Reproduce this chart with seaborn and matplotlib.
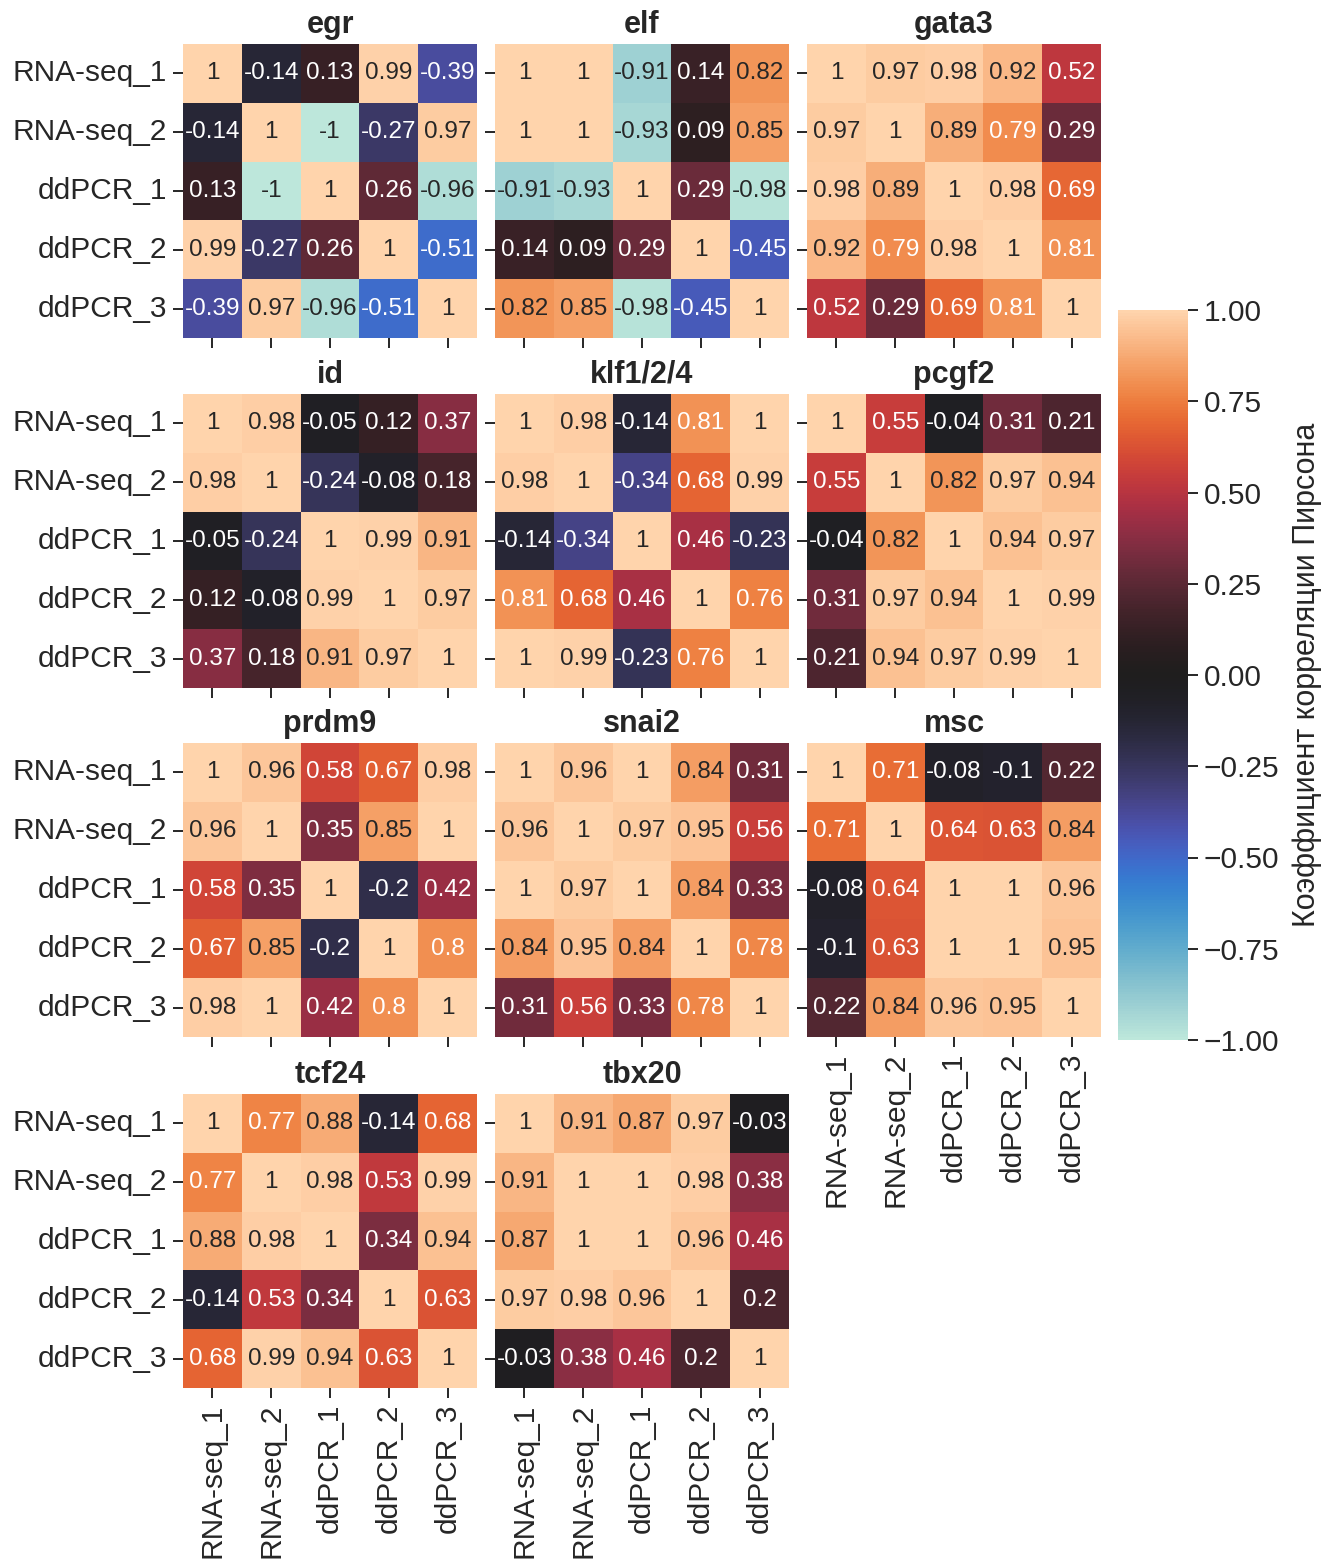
import numpy as np
import pandas as pd
import seaborn as sns
import matplotlib.pyplot as plt

sns.set_theme(style="ticks")
plt.rcParams['font.family'] = ['Liberation Sans', 'DejaVu Sans']

samples = ["RNA-seq_1", "RNA-seq_2", "ddPCR_1", "ddPCR_2", "ddPCR_3"]
genes = ["egr", "elf", "gata3", "id", "klf1/2/4", "pcgf2",
         "prdm9", "snai2", "msc", "tcf24", "tbx20"]
cbar_label = "Коэффициент корреляции Пирсона"

egr = [[1, -0.14, 0.13, 0.99, -0.39],
       [-0.14, 1, -1, -0.27, 0.97],
       [0.13, -1, 1, 0.26, -0.96],
       [0.99, -0.27, 0.26, 1, -0.51],
       [-0.39, 0.97, -0.96, -0.51, 1]]
elf = [[1, 1, -0.91, 0.14, 0.82],
       [1, 1, -0.93, 0.09, 0.85],
       [-0.91, -0.93, 1, 0.29, -0.98],
       [0.14, 0.09, 0.29, 1, -0.45],
       [0.82, 0.85, -0.98, -0.45, 1]]
gata3 = [[1, 0.97, 0.98, 0.92, 0.52],
         [0.97, 1, 0.89, 0.79, 0.29],
         [0.98, 0.89, 1, 0.98, 0.69],
         [0.92, 0.79, 0.98, 1, 0.81],
         [0.52, 0.29, 0.69, 0.81, 1]]
id_ = [[1, 0.98, -0.05, 0.12, 0.37],
       [0.98, 1, -0.24, -0.08, 0.18],
       [-0.05, -0.24, 1, 0.99, 0.91],
       [0.12, -0.08, 0.99, 1, 0.97],
       [0.37, 0.18, 0.91, 0.97, 1]]
klf = [[1, 0.98, -0.14, 0.81, 1],
       [0.98, 1, -0.34, 0.68, 0.99],
       [-0.14, -0.34, 1, 0.46, -0.23],
       [0.81, 0.68, 0.46, 1, 0.76],
       [1, 0.99, -0.23, 0.76, 1]]
pcgf2 = [[1, 0.55, -0.04, 0.31, 0.21],
         [0.55, 1, 0.82, 0.97, 0.94],
         [-0.04, 0.82, 1, 0.94, 0.97],
         [0.31, 0.97, 0.94, 1, 0.99],
         [0.21, 0.94, 0.97, 0.99, 1]]
prdm9 = [[1, 0.96, 0.58, 0.67, 0.98],
         [0.96, 1, 0.35, 0.85, 1],
         [0.58, 0.35, 1, -0.2, 0.42],
         [0.67, 0.85, -0.2, 1, 0.8],
         [0.98, 1, 0.42, 0.8, 1]]
snai2 = [[1, 0.96, 1, 0.84, 0.31],
         [0.96, 1, 0.97, 0.95, 0.56],
         [1, 0.97, 1, 0.84, 0.33],
         [0.84, 0.95, 0.84, 1, 0.78],
         [0.31, 0.56, 0.33, 0.78, 1]]
msc = [[1, 0.71, -0.08, -0.1, 0.22],
       [0.71, 1, 0.64, 0.63, 0.84],
       [-0.08, 0.64, 1, 1, 0.96],
       [-0.1, 0.63, 1, 1, 0.95],
       [0.22, 0.84, 0.96, 0.95, 1]]
tcf24 = [[1, 0.77, 0.88, -0.14, 0.68],
         [0.77, 1, 0.98, 0.53, 0.99],
         [0.88, 0.98, 1, 0.34, 0.94],
         [-0.14, 0.53, 0.34, 1, 0.63],
         [0.68, 0.99, 0.94, 0.63, 1]]
tbx20 = [[1, 0.91, 0.87, 0.97, -0.03],
         [0.91, 1, 1, 0.98, 0.38],
         [0.87, 1, 1, 0.96, 0.46],
         [0.97, 0.98, 0.96, 1, 0.2],
         [-0.03, 0.38, 0.46, 0.2, 1]]

matrices = [egr, elf, gata3, id_, klf, pcgf2, prdm9, snai2, msc, tcf24, tbx20]

W, H = 1336, 1560
fig = plt.figure(figsize=(W / 100, H / 100), dpi=100)

def px_axes(x, y, w, h):
    return fig.add_axes([x / W, 1 - (y + h) / H, w / W, h / H])

col_x = [183, 495, 807]
row_y = [44, 394, 743, 1094]
size = 294

cmap = sns.color_palette("icefire", as_cmap=True)
cax = px_axes(1118, 310, 70, 730)
text_col = "#262626"

n = len(genes)
for i, (gene, mat) in enumerate(zip(genes, matrices)):
    r, c = divmod(i, 3)
    ax = px_axes(col_x[c], row_y[r], size, size)
    df = pd.DataFrame(mat, index=samples, columns=samples)
    first = i == 0
    sns.heatmap(df, ax=ax, cmap=cmap, vmin=-1, vmax=1, annot=True, fmt=".2g",
                annot_kws={"size": 17.5}, cbar=first,
                cbar_ax=cax if first else None)
    ax.set_title(gene, fontsize=22, fontweight="bold", color=text_col, pad=8)
    ax.tick_params(axis="both", length=7.5, width=1.4, color=text_col,
                   labelsize=21.5, labelcolor=text_col, pad=4)
    bottom = (i + 3 >= n)
    if bottom:
        ax.set_xticklabels(samples, rotation=90)
    else:
        ax.set_xticklabels([])
    if c == 0:
        ax.set_yticklabels(samples, rotation=0)
    else:
        ax.set_yticklabels([])
    ax.set_xlabel("")
    ax.set_ylabel("")

cax.set_yticks(np.linspace(-1, 1, 9))
cax.tick_params(length=7.5, width=1.4, color=text_col, labelsize=21.5,
                labelcolor=text_col, pad=4)
fig.text(1307 / W, 1 - 675 / H, cbar_label, rotation=90, ha="center",
         va="center", fontsize=22, color=text_col)

fig.savefig("out.png", dpi=100)
